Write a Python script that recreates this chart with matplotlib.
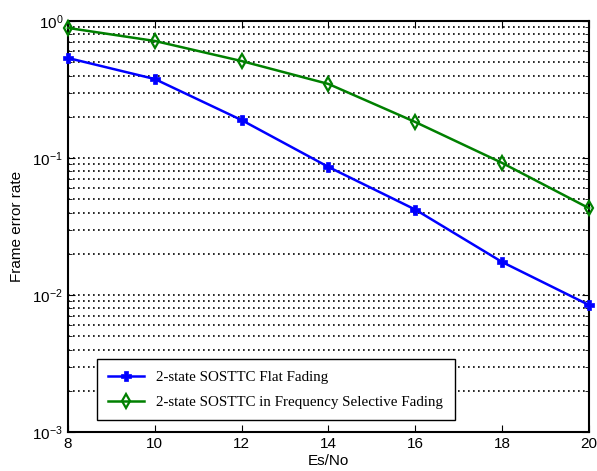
import numpy
import matplotlib
matplotlib.use("Agg")
import matplotlib.pyplot as plt
from matplotlib.ticker import LogLocator, NullFormatter

snr_db = [8, 10, 12, 14, 16, 18, 20]
fer_flat = [0.537, 0.377, 0.189, 0.086, 0.042, 0.0174, 0.00845]
fer_selective = [0.89, 0.715, 0.51, 0.347, 0.183, 0.092, 0.043]
legend_labels = ["2-state SOSTTC Flat Fading",
                 "2-state SOSTTC in Frequency Selective Fading"]

plt.rcParams["font.family"] = ["Liberation Sans", "DejaVu Sans"]

fig = plt.figure(figsize=(5.97, 4.71), dpi=100)
axes = fig.add_axes([0.1139, 0.0828, 0.8727, 0.8726])

axes.semilogy(snr_db, fer_flat, color="#0000ff", lw=1.8, marker="P",
              ms=7, mew=0.5, label=legend_labels[0], clip_on=False, zorder=3)
axes.semilogy(snr_db, fer_selective, color="#008000", lw=1.8, marker="d",
              ms=7, mfc="none", mew=1.6, label=legend_labels[1], clip_on=False, zorder=3)

axes.set_xlim(8, 20)
axes.set_ylim(1e-3, 1)
axes.set_xticks([8, 10, 12, 14, 16, 18, 20])
axes.yaxis.set_major_locator(LogLocator(base=10, numticks=10))
axes.yaxis.set_minor_locator(LogLocator(base=10, subs=numpy.arange(2, 10), numticks=20))
axes.yaxis.set_minor_formatter(NullFormatter())

axes.grid(True, which="both", axis="y", color="black", linestyle=(0, (1, 2)), lw=1.2)
axes.tick_params(which="both", direction="in", top=True, right=True, labelsize=11)
axes.tick_params(which="minor", length=3)
axes.tick_params(which="major", length=5)
for spine in axes.spines.values():
    spine.set_linewidth(1.5)

axes.set_xlabel("Es/No", fontsize=11, labelpad=2)
axes.set_ylabel("Frame error rate", fontsize=11, labelpad=6)

legend = axes.legend(loc="lower left", bbox_to_anchor=(0.056, 0.029),
                     borderaxespad=0,
                     prop={"family": "Liberation Serif", "size": 10.8},
                     fancybox=False, framealpha=1, edgecolor="black",
                     handlelength=2.4, borderpad=0.75, labelspacing=0.75)
legend.get_frame().set_linewidth(1.0)

fig.savefig("out.png", dpi=100)
